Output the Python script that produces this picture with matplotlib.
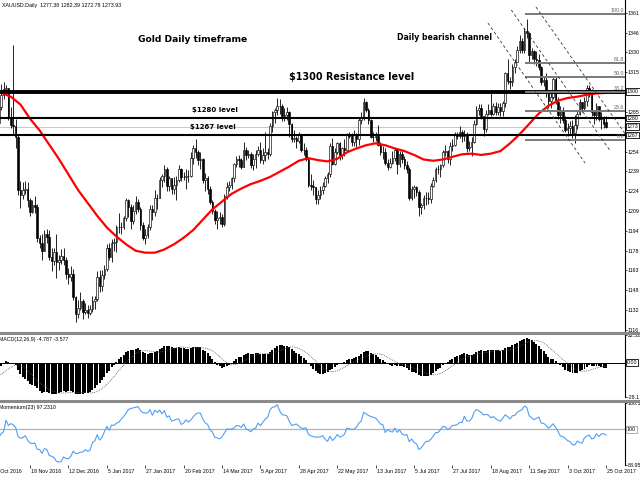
import numpy as np
import pandas as pd
import matplotlib
matplotlib.use("Agg")
from matplotlib import pyplot as plt
from matplotlib import transforms
from matplotlib.lines import Line2D

# daily closes 1 Sep - 26 Oct 2016 (left of the screen, only feed MACD / momentum)
warmup_closes = [1312, 1323, 1327, 1350, 1347, 1334, 1328, 1328, 1323, 1322, 1310,
                 1310, 1314, 1314, 1334, 1336, 1339, 1339, 1326, 1322, 1322, 1316,
                 1313, 1269, 1266, 1253, 1257, 1259, 1253, 1256, 1258, 1251, 1259,
                 1262, 1269, 1266, 1266, 1263, 1273, 1267]

# XAUUSD daily bars 27 Oct 2016 .. 25 Oct 2017 (16 bars per row = one date label)
closes = [
    1268, 1276, 1277, 1289, 1298, 1303, 1304, 1281, 1275, 1274, 1266, 1225, 1221, 1225, 1226, 1217,
    1208, 1213, 1212, 1188, 1184, 1178, 1191, 1189, 1173, 1170, 1177, 1169, 1171, 1174, 1171, 1160,
    1158, 1160, 1142, 1129, 1134, 1139, 1131, 1132, 1130, 1133, 1139, 1141, 1158, 1151, 1159, 1164,
    1180, 1173, 1184, 1185, 1196, 1196, 1196, 1203, 1217, 1212, 1201, 1209, 1216, 1210, 1198, 1188,
    1190, 1196, 1210, 1208, 1219, 1219, 1233, 1236, 1241, 1228, 1234, 1226, 1229, 1233, 1241, 1235,
    1235, 1236, 1236, 1250, 1257, 1254, 1248, 1249, 1233, 1234, 1226, 1216, 1209, 1202, 1203, 1204,
    1199, 1220, 1227, 1229, 1234, 1245, 1249, 1248, 1243, 1256, 1252, 1253, 1244, 1249, 1253, 1256,
    1248, 1252, 1254, 1253, 1274, 1285, 1287, 1290, 1290, 1282, 1283, 1285, 1276, 1264, 1265, 1263,
    1268, 1256, 1256, 1249, 1229, 1228, 1227, 1218, 1221, 1225, 1228, 1234, 1237, 1259, 1245, 1254,
    1261, 1252, 1257, 1256, 1268, 1267, 1262, 1268, 1264, 1279, 1281, 1293, 1287, 1279, 1266, 1266,
    1267, 1260, 1254, 1254, 1246, 1243, 1246, 1250, 1256, 1245, 1253, 1249, 1244, 1241, 1219, 1226,
    1227, 1223, 1212, 1213, 1219, 1219, 1218, 1228, 1233, 1241, 1241, 1244, 1254, 1255, 1249, 1259,
    1260, 1268, 1267, 1270, 1267, 1268, 1257, 1258, 1262, 1276, 1287, 1288, 1282, 1272, 1284, 1287,
    1284, 1290, 1285, 1289, 1286, 1292, 1315, 1309, 1308, 1320, 1324, 1333, 1340, 1333, 1348, 1346,
    1329, 1332, 1326, 1325, 1320, 1308, 1310, 1300, 1294, 1297, 1311, 1293, 1283, 1287, 1279, 1271,
    1273, 1274, 1269, 1275, 1284, 1293, 1288, 1294, 1304, 1302, 1285, 1283, 1290, 1280, 1281, 1276,
    1273.93,
]
highs = [
    1273, 1284, 1280, 1290, 1307, 1308, 1306, 1300, 1289, 1337, 1280, 1268, 1232, 1231, 1232, 1231,
    1219, 1217, 1220, 1214, 1190, 1191, 1194, 1195, 1194, 1180, 1180, 1191, 1175, 1179, 1180, 1173,
    1165, 1166, 1164, 1143, 1140, 1146, 1141, 1138, 1136, 1136, 1143, 1143, 1162, 1163, 1163, 1167,
    1183, 1184, 1187, 1188, 1198, 1207, 1200, 1205, 1219, 1218, 1214, 1213, 1220, 1218, 1212, 1200,
    1195, 1199, 1213, 1213, 1225, 1222, 1235, 1237, 1244, 1243, 1236, 1234, 1235, 1236, 1244, 1242,
    1239, 1241, 1240, 1254, 1260, 1264, 1256, 1254, 1250, 1238, 1236, 1228, 1217, 1210, 1209, 1208,
    1206, 1222, 1231, 1232, 1235, 1246, 1251, 1252, 1250, 1262, 1258, 1256, 1254, 1253, 1256, 1259,
    1262, 1257, 1270, 1257, 1277, 1286, 1288, 1296, 1295, 1291, 1288, 1289, 1286, 1277, 1271, 1267,
    1270, 1268, 1261, 1258, 1249, 1237, 1233, 1227, 1225, 1228, 1231, 1236, 1239, 1261, 1265, 1257,
    1262, 1262, 1258, 1264, 1269, 1270, 1269, 1271, 1269, 1281, 1285, 1296, 1294, 1288, 1280, 1270,
    1270, 1275, 1262, 1259, 1257, 1249, 1250, 1255, 1257, 1257, 1255, 1256, 1251, 1247, 1243, 1228,
    1229, 1228, 1225, 1215, 1221, 1223, 1223, 1230, 1235, 1243, 1244, 1245, 1256, 1260, 1256, 1262,
    1264, 1270, 1270, 1274, 1271, 1271, 1270, 1263, 1266, 1279, 1290, 1291, 1291, 1282, 1287, 1291,
    1301, 1292, 1293, 1292, 1292, 1294, 1316, 1326, 1312, 1322, 1326, 1336, 1345, 1342, 1350, 1357,
    1347, 1335, 1333, 1332, 1330, 1321, 1313, 1315, 1302, 1301, 1313, 1313, 1297, 1290, 1289, 1282,
    1277, 1278, 1279, 1283, 1287, 1295, 1293, 1297, 1306, 1306, 1303, 1287, 1292, 1290, 1285, 1282,
    1282.39,
]
lows = [
    1263, 1265, 1272, 1275, 1287, 1295, 1298, 1279, 1273, 1268, 1257, 1221, 1211, 1218, 1222, 1212,
    1205, 1207, 1207, 1185, 1180, 1171, 1178, 1184, 1171, 1162, 1167, 1157, 1163, 1168, 1167, 1156,
    1152, 1155, 1140, 1123, 1126, 1132, 1125, 1129, 1126, 1128, 1131, 1133, 1139, 1146, 1147, 1156,
    1162, 1171, 1169, 1178, 1177, 1192, 1191, 1195, 1201, 1204, 1195, 1199, 1206, 1208, 1194, 1186,
    1183, 1188, 1194, 1202, 1205, 1210, 1219, 1227, 1231, 1224, 1224, 1222, 1222, 1217, 1231, 1232,
    1233, 1226, 1231, 1235, 1245, 1250, 1244, 1241, 1230, 1224, 1222, 1214, 1206, 1199, 1195, 1199,
    1196, 1197, 1218, 1224, 1226, 1231, 1243, 1243, 1241, 1243, 1248, 1250, 1242, 1240, 1242, 1251,
    1246, 1245, 1247, 1249, 1251, 1270, 1277, 1283, 1284, 1278, 1278, 1279, 1266, 1262, 1262, 1257,
    1261, 1254, 1252, 1247, 1227, 1225, 1221, 1214, 1214, 1218, 1222, 1227, 1230, 1235, 1244, 1244,
    1253, 1248, 1249, 1251, 1254, 1265, 1259, 1259, 1258, 1260, 1276, 1279, 1285, 1276, 1265, 1262,
    1263, 1259, 1252, 1249, 1244, 1240, 1242, 1245, 1247, 1237, 1243, 1246, 1241, 1238, 1217, 1217,
    1219, 1220, 1205, 1206, 1210, 1213, 1214, 1215, 1227, 1231, 1237, 1235, 1243, 1251, 1246, 1244,
    1255, 1259, 1264, 1265, 1262, 1263, 1254, 1255, 1251, 1261, 1275, 1283, 1280, 1267, 1270, 1283,
    1282, 1283, 1283, 1283, 1282, 1282, 1289, 1307, 1303, 1305, 1315, 1324, 1331, 1331, 1331, 1342,
    1323, 1326, 1322, 1321, 1318, 1306, 1305, 1297, 1288, 1288, 1295, 1291, 1280, 1277, 1277, 1270,
    1267, 1268, 1265, 1261, 1272, 1283, 1285, 1286, 1290, 1297, 1282, 1276, 1279, 1278, 1272, 1273,
    1272.78,
]
last_open = 1277.38

# red moving average, read every 4 bars
ma_bars = list(range(4, 257, 4))
ma_values = [1300, 1297, 1291, 1280, 1271, 1260, 1249, 1237, 1225, 1215, 1205, 1196, 1189,
             1183, 1178, 1176.5, 1176.5, 1179, 1183, 1188, 1194, 1202, 1210, 1216, 1222,
             1226, 1229.5, 1232, 1235, 1239, 1243, 1247.5, 1249.5, 1248, 1247, 1249, 1254,
             1257, 1259.5, 1261, 1259.5, 1257, 1255, 1252, 1248.5, 1247.5, 1248.5, 1250.6,
             1252.5, 1253, 1252, 1253, 1255, 1261, 1268, 1276, 1284, 1290, 1294, 1296, 1297,
             1298.5, 1299.5, 1300]

date_labels = ["27 Oct 2016", "18 Nov 2016", "12 Dec 2016", "5 Jan 2017", "27 Jan 2017",
               "20 Feb 2017", "14 Mar 2017", "5 Apr 2017", "28 Apr 2017", "22 May 2017",
               "13 Jun 2017", "5 Jul 2017", "27 Jul 2017", "18 Aug 2017", "11 Sep 2017",
               "3 Oct 2017", "25 Oct 2017"]
# 1300 and 1270 sit under the line-price boxes, so they are left blank
price_tick_labels = ["1361", "1346", "1330", "1315", "", "1285", "", "1254", "1239",
                     "1224", "1209", "1194", "1178", "1163", "1148", "1132", "1116"]

levels = [1301, 1280.5, 1267.4]         # drawn horizontal lines
bid = 1273.93
fib_high, fib_low = 1360.5, 1263.3
fib_ratios = [1.0, 0.618, 0.5, 0.382, 0.236, 0.0]
fib_start = 222.3
channel = [((206.8, 1353.9), (247.25, 1245.8)),
           ((216.5, 1364.0), (257.7, 1255.3)),
           ((226.8, 1366.3), (267.25, 1259.7))]

# ---------------------------------------------------------------
c = np.array(closes, float)
o = np.r_[warmup_closes[-1], c[:-1]]
o[-1] = last_open
h = np.maximum(np.array(highs, float), np.maximum(o, c))
l = np.minimum(np.array(lows, float), np.minimum(o, c))
bars = np.arange(len(c))

allc = pd.Series(warmup_closes + closes, dtype=float)
macd = allc.ewm(span=12, adjust=False).mean() - allc.ewm(span=26, adjust=False).mean()
signal = macd.rolling(9, min_periods=1).mean()
mom = allc / allc.shift(23) * 100
n0 = len(warmup_closes)
macd = macd.values[n0:]
signal = signal.values[n0:]
mom = mom.values[n0:]

small = dict(fontsize=3.8, family="Liberation Sans")
W, H = 640, 480


def box(y0, y1):
    return [0, 1 - y1 / H, 625 / W, (y1 - y0) / H]


fig = plt.figure(figsize=(6.4, 4.8), dpi=100)
ax = fig.add_axes(box(0, 331))
axm = fig.add_axes(box(335, 397))
axo = fig.add_axes(box(403, 465))

for a in (ax, axm, axo):
    a.set_xlim(3.5, 263.9)
    for s in ("left", "top", "bottom"):
        a.spines[s].set_visible(False)
    a.spines["right"].set_linewidth(0.8)
    a.yaxis.tick_right()
    a.tick_params(axis="y", length=1.5, width=0.5, pad=0.6, labelsize=3.8)
    a.tick_params(axis="x", length=0)
    a.set_xticks([])

# --- price panel
ax.set_ylim(1116.0, 1371.7)
up = c >= o
dn = ~up
ax.vlines(bars, l, h, color="black", lw=0.6, zorder=2)
ax.bar(bars[up], (c - o)[up], bottom=o[up], width=0.62, color="white",
       edgecolor="black", lw=0.45, zorder=2)
ax.bar(bars[dn], np.maximum((o - c)[dn], 0.4), bottom=c[dn], width=0.62,
       color="black", edgecolor="black", lw=0.45, zorder=2)
ax.plot(ma_bars, ma_values, color="#ff0000", lw=1.6, zorder=3)

ax.axhline(bid, color="#c8c8c8", lw=0.7, zorder=1)
ax.axhline(levels[0], color="black", lw=2.8, zorder=4)
ax.axhline(levels[1], color="black", lw=1.5, zorder=4)
ax.axhline(levels[2], color="black", lw=1.5, zorder=4)

for r in fib_ratios:
    lv = fib_low + r * (fib_high - fib_low)
    ax.hlines(lv, fib_start, 263.9, color="#7a7a7a", lw=1.4, zorder=4)
    ax.text(263.5, lv + 0.8, "%.1f" % (r * 100), ha="right", va="bottom",
            color="#606060", zorder=5, **small)

for (x0, y0), (x1, y1) in channel:
    ax.plot([x0, x1], [y0, y1], color="#333333", lw=0.6, ls=(0, (3.5, 3)), zorder=4)

ticks = [1361.9 - 15.32 * i for i in range(len(price_tick_labels))]
ax.set_yticks(ticks)
ax.set_yticklabels(price_tick_labels, **small)

bt = transforms.blended_transform_factory(ax.transAxes, ax.transData)
boxkw = dict(boxstyle="square,pad=0.15", fc="white", ec="black", lw=0.6)
for val, txt in [(levels[0], "1300"), (levels[1], "1280"), (bid, "1273"), (levels[2], "1267")]:
    ax.text(1.003, val, txt, transform=bt, va="center", ha="left", bbox=boxkw,
            clip_on=False, zorder=6, **small)

# --- MACD panel
axm.set_ylim(-28.1, 22.52)
axm.bar(bars, macd, width=0.78, color="black", zorder=2)
axm.plot(bars, signal, color="#555555", lw=0.6, ls=(0, (1, 1.2)), zorder=3)
axm.axhline(0, color="black", lw=0.7, zorder=1)
axm.set_yticks([22.52, -28.1])
axm.set_yticklabels(["22.52", "-28.1"], **small)
bm = transforms.blended_transform_factory(axm.transAxes, axm.transData)
axm.text(1.003, 0, "0.00", transform=bm, va="center", ha="left", bbox=boxkw,
         clip_on=False, **small)

# --- momentum panel
axo.set_ylim(88.95, 108.1)
axo.axhline(100, color="#b4b4b4", lw=0.9, zorder=1)
axo.plot(bars, mom, color="#4f9ff5", lw=0.8, zorder=2)
axo.set_yticks([108.1, 88.95])
axo.set_yticklabels(["108.1", "88.95"], **small)
bo = transforms.blended_transform_factory(axo.transAxes, axo.transData)
axo.text(1.003, 100, "100", transform=bo, va="center", ha="left",
         bbox=dict(boxstyle="square,pad=0.15", fc="white", ec="#a0a0a0", lw=0.6),
         clip_on=False, **small)

# date scale under the momentum panel
label_bars = [16 * i for i in range(len(date_labels))]
axo.set_xticks([b for b in label_bars if b > 3.5])
axo.tick_params(axis="x", length=2, width=0.5, direction="out", labelbottom=False)
bx = transforms.blended_transform_factory(axo.transData, axo.transAxes)
for b, txt in zip(label_bars, date_labels):
    axo.text(b + 0.4, -0.06, txt, transform=bx, ha="left", va="top", clip_on=False, **small)

# panel separators
for y in (332.5, 400.5):
    fig.add_artist(Line2D([0, 1], [1 - y / H, 1 - y / H], transform=fig.transFigure,
                          color="#8a8a8a", lw=2.2))


def fxy(x, y):
    return x / W, 1 - y / H


# headers
fig.text(*fxy(2, 5), "XAUUSD.Daily  1277.38 1282.39 1272.78 1273.93", va="center", **small)
fig.text(*fxy(-1, 339), "MACD(12,26,9) -4.787 -3.577", va="center", **small)
fig.text(*fxy(-1, 407), "Momentum(23) 97.2310", va="center", **small)

# annotations
bold = dict(fontweight="bold", family="DejaVu Sans", ha="center", va="center")
fig.text(*fxy(193, 39), "Gold Daily timeframe", fontsize=6.6, **bold)
fig.text(*fxy(445, 38), "Daily bearish channel", fontsize=5.6, **bold)
fig.text(*fxy(352, 77), "$1300 Resistance level", fontsize=6.9, **bold)
fig.text(*fxy(215, 110), "$1280 level", fontsize=5.0, **bold)
fig.text(*fxy(213, 127), "$1267 level", fontsize=5.0, **bold)

fig.savefig("out.png", dpi=100)
